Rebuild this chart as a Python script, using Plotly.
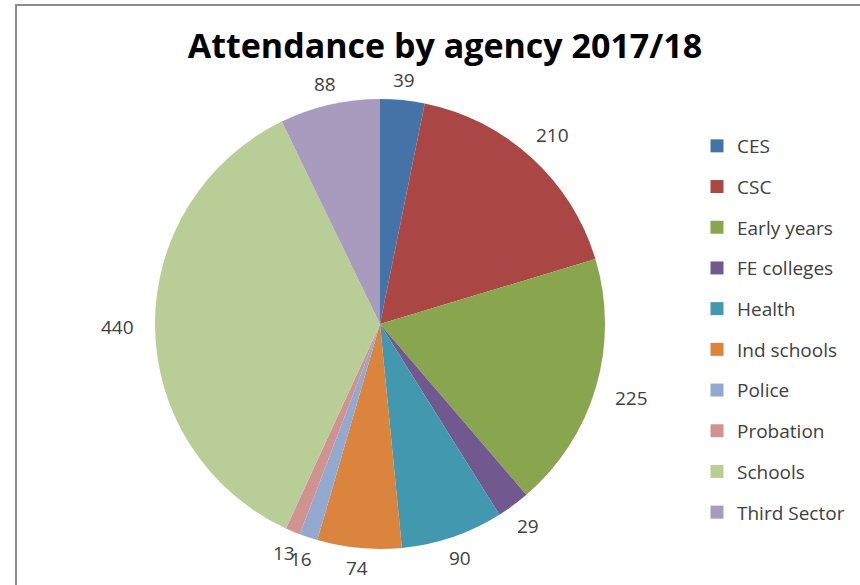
import math
import plotly.graph_objects as go

labels = ["CES", "CSC", "Early years", "FE colleges", "Health", "Ind schools",
          "Police", "Probation", "Schools", "Third Sector"]
values = [39, 210, 225, 29, 90, 74, 16, 13, 440, 88]
colors = ["#4572A7", "#AA4643", "#89A54E", "#71588F", "#4198AF", "#DB843D",
          "#93A9CF", "#D19392", "#B9CD96", "#A99BBD"]

W, H = 860, 585
cx, cy, r = 380, 324, 225
LABEL_FONT = 19

fig = go.Figure()
fig.add_trace(go.Pie(
    labels=labels, values=values, sort=False, direction="clockwise", rotation=0,
    marker=dict(colors=colors, line=dict(width=0)),
    textinfo="none", showlegend=False, hoverinfo="label+value",
    domain=dict(x=[(cx - r) / W, (cx + r) / W], y=[(H - cy - r) / H, (H - cy + r) / H]),
))

# value labels placed outside each slice, at the slice's mid-angle
total = sum(values)
cum = 0
annotations = []
for v in values:
    theta = 2 * math.pi * (cum + v / 2) / total
    cum += v
    s, c = math.sin(theta), math.cos(theta)
    tw = 0.6 * LABEL_FONT * len(str(v))
    th = 14
    d = r + 12 + 0.5 * (tw * abs(s) + th * abs(c)) + 8 * abs(s) ** 4
    px, py = cx + d * s, cy - d * c
    annotations.append(dict(
        x=px / W, y=1 - py / H, xref="paper", yref="paper", text=str(v),
        showarrow=False, xanchor="center", yanchor="middle",
        font=dict(family="Open Sans", size=LABEL_FONT, color="#404040"),
    ))

for lab, col in zip(labels, colors):
    fig.add_trace(go.Scatter(
        x=[None], y=[None], mode="markers", name=lab, legendgroup=lab,
        marker=dict(symbol="square", size=13, color=col),
    ))

fig.update_layout(
    width=W, height=H, margin=dict(l=0, r=0, t=0, b=0),
    paper_bgcolor="white", plot_bgcolor="white",
    title=dict(text="<b>Attendance by agency 2017/18</b>", x=445 / W, xanchor="center",
               y=1 - 46 / H, yanchor="middle",
               font=dict(family="Open Sans", size=34, color="black")),
    xaxis=dict(visible=False), yaxis=dict(visible=False),
    legend=dict(x=(717 - 20) / W, xanchor="left", y=1 - 127 / H, yanchor="top",
                font=dict(family="Open Sans", size=19, color="#404040"),
                tracegroupgap=13, bgcolor="rgba(0,0,0,0)"),
    annotations=annotations,
    shapes=[dict(type="rect", xref="paper", yref="paper",
                 x0=16 / W, x1=1.05, y0=-0.05, y1=1 - 5 / H,
                 line=dict(color="#8c8c8c", width=2), fillcolor="rgba(0,0,0,0)", layer="below")],
)

fig.write_html("out.html")
